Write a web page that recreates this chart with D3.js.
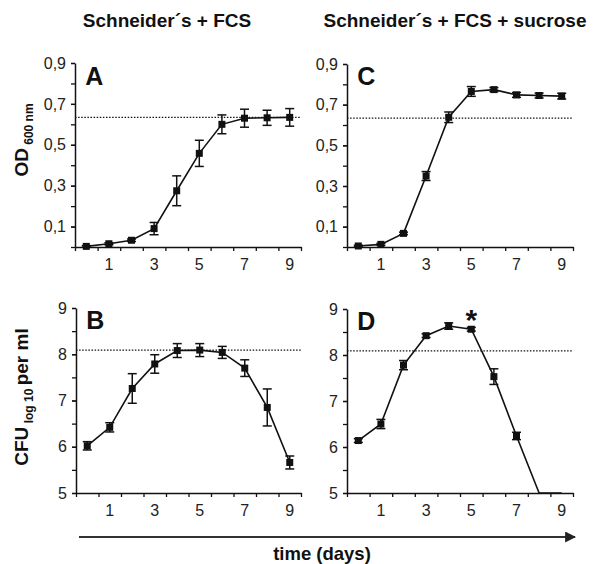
<!DOCTYPE html>
<html>
<head>
<meta charset="utf-8">
<script src="https://cdn.jsdelivr.net/npm/d3@7"></script>
<style>
  body { margin: 0; background: #fff; }
  svg { font-family: "Liberation Sans", Arial, Helvetica, sans-serif; }
</style>
</head>
<body>
<div id="chart"></div>
<script>
// data
const days = [0, 1, 2, 3, 4, 5, 6, 7, 8, 9];
const dayLabels = [1, 3, 5, 7, 9];

const odA    = [0.003, 0.016, 0.033, 0.090, 0.275, 0.458, 0.600, 0.630, 0.632, 0.634];
const odAErr = [0.004, 0.005, 0.006, 0.030, 0.073, 0.064, 0.046, 0.044, 0.037, 0.043];
const odC    = [0.005, 0.013, 0.067, 0.349, 0.638, 0.765, 0.774, 0.748, 0.745, 0.742];
const odCErr = [0.004, 0.005, 0.006, 0.022, 0.026, 0.024, 0.010, 0.012, 0.012, 0.014];

const cfuB    = [6.02, 6.42, 7.26, 7.79, 8.08, 8.09, 8.04, 7.70, 6.85, 5.66];
const cfuBErr = [0.09, 0.10, 0.32, 0.20, 0.15, 0.14, 0.13, 0.18, 0.40, 0.14];
const cfuD    = [6.14, 6.50, 7.78, 8.42, 8.63, 8.56, 7.53, 6.24, 5.00, 5.00];
const cfuDErr = [0.04, 0.10, 0.10, 0.04, 0.07, 0.04, 0.17, 0.08, 0.00, 0.00];

const odTicks = [0.1, 0.3, 0.5, 0.7, 0.9];
const cfuTicks = [5, 6, 7, 8, 9];
const odRef = 0.634;
const cfuRef = 8.09;

const width = 593, height = 564;

const svg = d3.select('#chart').append('svg')
  .attr('width', width)
  .attr('height', height);

const ink = '#111';

function drawPanel(opt) {
  const x = d3.scaleLinear().domain([-0.5, 9.5]).range([opt.left, opt.right]);
  const y = d3.scaleLinear().domain(opt.domain).range([opt.bottom, opt.top]);
  const g = svg.append('g');

  // minor ticks (no labels)
  g.append('g')
    .attr('transform', 'translate(' + opt.left + ',0)')
    .call(d3.axisLeft(y).tickValues(opt.minor).tickSize(4).tickFormat(''))
    .call(a => a.select('.domain').remove())
    .selectAll('line').attr('stroke', ink).attr('stroke-width', 1.3);

  // y axis
  const ya = g.append('g')
    .attr('transform', 'translate(' + opt.left + ',0)')
    .call(d3.axisLeft(y).tickValues(opt.ticks).tickSize(4).tickSizeOuter(0).tickPadding(5)
      .tickFormat(opt.fmt));
  ya.select('.domain').attr('stroke', ink).attr('stroke-width', 1.5);
  ya.selectAll('line').attr('stroke', ink).attr('stroke-width', 1.3);
  ya.selectAll('text').attr('font-size', 16).attr('fill', '#222');

  // x axis: ticks between days, labels on odd days
  const xa = g.append('g')
    .attr('transform', 'translate(0,' + opt.bottom + ')')
    .call(d3.axisBottom(x).tickValues(d3.range(-0.5, 10, 1)).tickSize(4).tickSizeOuter(0).tickFormat(''));
  xa.select('.domain').attr('stroke', ink).attr('stroke-width', 1.5);
  xa.selectAll('line').attr('stroke', ink).attr('stroke-width', 1.3);
  g.append('g').selectAll('text')
    .data(dayLabels).enter().append('text')
    .attr('x', d => x(d))
    .attr('y', opt.bottom + 23)
    .attr('text-anchor', 'middle')
    .attr('font-size', 16)
    .attr('fill', '#222')
    .text(d => d);

  // dotted reference line
  g.append('line')
    .attr('x1', opt.left).attr('x2', opt.right)
    .attr('y1', y(opt.ref)).attr('y2', y(opt.ref))
    .attr('stroke', ink).attr('stroke-width', 1.2)
    .attr('stroke-dasharray', '1.5,1.6');

  const pts = days.map((d, i) => ({ day: d, v: opt.values[i], e: opt.errors[i] }));

  // curve
  g.append('path')
    .datum(pts)
    .attr('fill', 'none')
    .attr('stroke', ink)
    .attr('stroke-width', 1.6)
    .attr('d', d3.line().x(d => x(d.day)).y(d => y(d.v)));

  // error bars
  const eb = g.append('g').selectAll('g')
    .data(pts.filter(d => d.e > 0)).enter().append('g')
    .attr('stroke', ink).attr('stroke-width', 1.5);
  eb.append('line')
    .attr('x1', d => x(d.day)).attr('x2', d => x(d.day))
    .attr('y1', d => y(d.v - d.e)).attr('y2', d => y(d.v + d.e));
  eb.append('line')
    .attr('x1', d => x(d.day) - 4.5).attr('x2', d => x(d.day) + 4.5)
    .attr('y1', d => y(d.v + d.e)).attr('y2', d => y(d.v + d.e));
  eb.append('line')
    .attr('x1', d => x(d.day) - 4.5).attr('x2', d => x(d.day) + 4.5)
    .attr('y1', d => y(d.v - d.e)).attr('y2', d => y(d.v - d.e));

  // square markers (none on the detection limit)
  g.append('g').selectAll('rect')
    .data(pts.filter(d => d.v > opt.domain[0])).enter().append('rect')
    .attr('x', d => x(d.day) - 3.5)
    .attr('y', d => y(d.v) - 3.5)
    .attr('width', 7).attr('height', 7)
    .attr('fill', ink);

  // panel letter
  g.append('text')
    .attr('x', x(0) - 1)
    .attr('y', opt.top + opt.letterDy)
    .attr('font-size', 25)
    .attr('font-weight', 'bold')
    .attr('fill', ink)
    .text(opt.letter);

  return { x: x, y: y };
}

const fmtOD = d => d3.format('.1f')(d).replace('.', ',');

drawPanel({ letter: 'A', left: 75, right: 301, top: 63, bottom: 247, domain: [0, 0.9],
  ticks: odTicks, minor: d3.range(0, 0.95, 0.1), fmt: fmtOD, ref: odRef,
  values: odA, errors: odAErr, letterDy: 22 });
drawPanel({ letter: 'C', left: 347, right: 573, top: 64, bottom: 247, domain: [0, 0.9],
  ticks: odTicks, minor: d3.range(0, 0.95, 0.1), fmt: fmtOD, ref: odRef,
  values: odC, errors: odCErr, letterDy: 21 });
drawPanel({ letter: 'B', left: 76, right: 301, top: 308, bottom: 493, domain: [5, 9],
  ticks: cfuTicks, minor: d3.range(5, 9.25, 0.5), fmt: d3.format('d'), ref: cfuRef,
  values: cfuB, errors: cfuBErr, letterDy: 21 });
const pD = drawPanel({ letter: 'D', left: 347, right: 573, top: 309, bottom: 493, domain: [5, 9],
  ticks: cfuTicks, minor: d3.range(5, 9.25, 0.5), fmt: d3.format('d'), ref: cfuRef,
  values: cfuD, errors: cfuDErr, letterDy: 21 });

// asterisk over day 5 in D
svg.append('text')
  .attr('x', pD.x(5))
  .attr('y', 330)
  .attr('text-anchor', 'middle')
  .attr('font-size', 30)
  .attr('font-weight', 'bold')
  .attr('fill', ink)
  .text('*');

// column titles
svg.append('text')
  .attr('x', 167).attr('y', 27)
  .attr('text-anchor', 'middle')
  .attr('font-size', 19).attr('font-weight', 'bold').attr('fill', ink)
  .text('Schneider´s + FCS');
svg.append('text')
  .attr('x', 455).attr('y', 27)
  .attr('text-anchor', 'middle')
  .attr('font-size', 19).attr('font-weight', 'bold').attr('fill', ink)
  .text('Schneider´s + FCS + sucrose');

// y axis titles
const od = svg.append('text')
  .attr('transform', 'translate(28,140) rotate(-90)')
  .attr('text-anchor', 'middle')
  .attr('font-weight', 'bold').attr('fill', ink);
od.append('tspan').attr('font-size', 19).text('OD');
od.append('tspan').attr('font-size', 12).attr('dy', 5).text(' 600 nm');

const cfu = svg.append('text')
  .attr('transform', 'translate(28,397) rotate(-90)')
  .attr('text-anchor', 'middle')
  .attr('font-weight', 'bold').attr('fill', ink);
cfu.append('tspan').attr('font-size', 19).text('CFU');
cfu.append('tspan').attr('font-size', 12).attr('dy', 5).text(' log 10 ');
cfu.append('tspan').attr('font-size', 19).attr('dy', -5).text('per ml');

// time arrow
svg.append('defs').append('marker')
  .attr('id', 'arrow')
  .attr('viewBox', '0 0 10 10')
  .attr('refX', 9).attr('refY', 5)
  .attr('markerUnits', 'userSpaceOnUse')
  .attr('markerWidth', 11).attr('markerHeight', 11)
  .attr('orient', 'auto')
  .append('path')
  .attr('d', 'M0,0 L10,5 L0,10 Z')
  .attr('fill', '#222');
svg.append('line')
  .attr('x1', 79).attr('x2', 575)
  .attr('y1', 537).attr('y2', 537)
  .attr('stroke', '#333').attr('stroke-width', 2)
  .attr('marker-end', 'url(#arrow)');
svg.append('text')
  .attr('x', 322).attr('y', 560)
  .attr('text-anchor', 'middle')
  .attr('font-size', 18.5).attr('font-weight', 'bold').attr('fill', ink)
  .text('time (days)');
</script>
</body>
</html>
